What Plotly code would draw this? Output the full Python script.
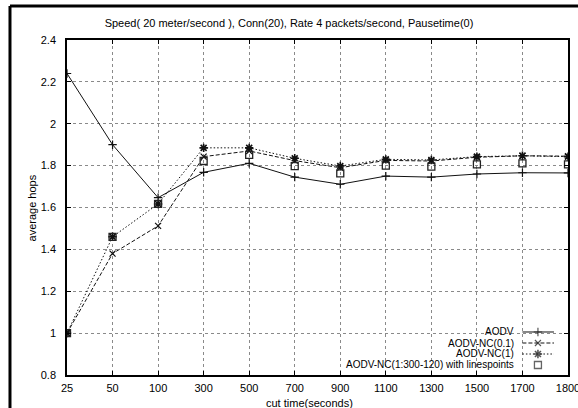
import plotly.graph_objects as go

# Cut times (evenly spaced categories) and average hop counts per protocol variant
cut_times = ["25", "50", "100", "300", "500", "700", "900", "1100", "1300", "1500", "1700", "1800"]
aodv = [2.24, 1.90, 1.647, 1.768, 1.811, 1.745, 1.711, 1.750, 1.745, 1.760, 1.766, 1.765]
aodv_nc_01 = [1.0, 1.38, 1.512, 1.843, 1.870, 1.824, 1.790, 1.825, 1.822, 1.840, 1.847, 1.845]
aodv_nc_1 = [1.0, 1.46, 1.617, 1.885, 1.885, 1.835, 1.798, 1.830, 1.827, 1.843, 1.847, 1.843]
aodv_nc_lp = [1.0, 1.46, 1.617, 1.822, 1.851, 1.798, 1.763, 1.800, 1.795, 1.806, 1.811, 1.806]

series_names = ["AODV", "AODV-NC(0.1)", "AODV-NC(1)", "AODV-NC(1:300-120) with linespoints"]
y_ticks = [0.8, 1.0, 1.2, 1.4, 1.6, 1.8, 2.0, 2.2, 2.4]

FONT = "Liberation Sans, Arial, Helvetica, sans-serif"
INK = "#111111"

styles = [
    dict(mode="lines+markers", line=dict(color=INK, width=1, dash="solid"),
         marker=dict(symbol="cross-thin-open", size=6, color=INK, line=dict(width=1.2, color=INK))),
    dict(mode="lines+markers", line=dict(color=INK, width=1, dash="4px,2px"),
         marker=dict(symbol="x-thin-open", size=6, color=INK, line=dict(width=1.2, color=INK))),
    dict(mode="lines+markers", line=dict(color=INK, width=1, dash="1.5px,2px"),
         marker=dict(symbol="asterisk-open", size=7, color=INK, line=dict(width=1.6, color=INK))),
    dict(mode="markers", line=dict(color=INK, width=1),
         marker=dict(symbol="square-open", size=7, color="#222222", line=dict(width=1.3, color="#222222"))),
]

fig = go.Figure()
for name, vals, st in zip(series_names, [aodv, aodv_nc_01, aodv_nc_1, aodv_nc_lp], styles):
    fig.add_trace(go.Scatter(x=cut_times, y=vals, name=name, showlegend=False, **st))

# gnuplot-style key: right-aligned labels with line samples to their right
key_rows = [0.1284, 0.0955, 0.0627, 0.0299]
key_text_x = 0.896
key_x0, key_xm, key_x1 = 0.909, 0.940, 0.972
for name, st, ky in zip(series_names, styles, key_rows):
    st_key = dict(st)
    mk = dict(st["marker"])
    mk["size"] = [0, mk["size"], 0]
    st_key["marker"] = mk
    fig.add_trace(go.Scatter(x=[key_x0, key_xm, key_x1], y=[ky, ky, ky], xaxis="x2", yaxis="y2",
                             showlegend=False, hoverinfo="skip", **st_key))
    fig.add_annotation(x=key_text_x, y=ky, xref="paper", yref="paper", text=name,
                       showarrow=False, xanchor="right", yanchor="middle",
                       font=dict(family=FONT, size=10, color="#000"))

# axis titles
fig.add_annotation(x=-0.0699, y=0.5, xref="paper", yref="paper", text="average hops",
                   textangle=-90, showarrow=False, xanchor="center", yanchor="middle",
                   font=dict(family=FONT, size=11, color="#000"))
fig.add_annotation(x=0.485, y=-0.0836, xref="paper", yref="paper", text="cut time(seconds)",
                   showarrow=False, xanchor="center", yanchor="middle",
                   font=dict(family=FONT, size=11, color="#000"))

# blank the grid behind the key, as gnuplot does
fig.add_shape(type="rect", xref="paper", yref="paper", x0=0.425, x1=0.997, y0=0.004, y1=0.146,
              fillcolor="white", line=dict(width=0), layer="between")

# outer frame strokes along the top and left of the page
fig.add_shape(type="line", xref="paper", yref="paper", x0=-0.1138, x1=1.05, y0=1.1015, y1=1.1015,
              line=dict(color="black", width=3))
fig.add_shape(type="line", xref="paper", yref="paper", x0=-0.1138, x1=-0.1138, y0=1.1015, y1=-0.2,
              line=dict(color="black", width=3))

axis_common = dict(
    showline=True, linecolor="black", linewidth=1.5, mirror="ticks",
    ticks="inside", ticklen=4, tickcolor="black", tickwidth=1,
    showgrid=True, gridcolor="#8a8a8a", griddash="dot", gridwidth=1,
    zeroline=False, tickfont=dict(family=FONT, size=11, color="#000"),
)

fig.update_layout(
    width=578, height=408,
    margin=dict(l=67, r=10, t=40, b=33, autoexpand=False),
    paper_bgcolor="white", plot_bgcolor="white",
    title=dict(text="Speed( 20 meter/second ), Conn(20), Rate 4 packets/second, Pausetime(0)",
               x=0.5, xanchor="center", y=0.944, yanchor="middle",
               font=dict(family=FONT, size=11, color="#000")),
    xaxis=dict(type="category", range=[0, 11], ticklabelstandoff=2, **axis_common),
    yaxis=dict(range=[0.8, 2.4], tickvals=y_ticks, ticklabelstandoff=7, **axis_common),
    xaxis2=dict(overlaying="x", range=[0, 1], visible=False, fixedrange=True),
    yaxis2=dict(overlaying="y", range=[0, 1], visible=False, fixedrange=True),
    showlegend=False,
)

fig.write_html("out.html")
